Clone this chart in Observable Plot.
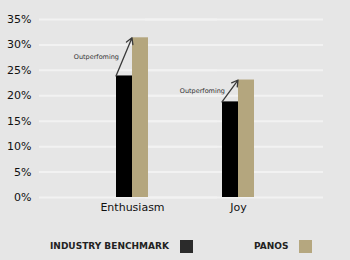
<!DOCTYPE html>
<html>
<head>
<meta charset="utf-8">
<script src="https://cdn.jsdelivr.net/npm/d3@7"></script>
<script src="https://cdn.jsdelivr.net/npm/@observablehq/plot@0.6"></script>
<style>
  html, body { margin: 0; padding: 0; background: #e6e6e6; }
  #wrap { width: 350px; height: 260px; position: relative; overflow: hidden; background: #e6e6e6; font-family: "DejaVu Sans", Verdana, sans-serif; }
  #chart svg { display: block; }
  #legend { position: absolute; left: 0; top: 238px; width: 350px; height: 16px; font-size: 9px; font-weight: bold; color: #222; }
  .item { position: absolute; top: 0; display: flex; align-items: center; height: 16px; }
  .sw { display: inline-block; width: 13px; height: 13px; margin-left: 11px; box-sizing: border-box; }
</style>
</head>
<body>
<div id="wrap">
  <div id="chart"></div>
  <div id="legend"></div>
</div>
<script>
const categories = ["Enthusiasm", "Joy"];
const seriesNames = ["INDUSTRY BENCHMARK", "PANOS"];
const benchmark = [23.9, 18.8];
const panos = [31.4, 23.1];
const yTicks = [0, 5, 10, 15, 20, 25, 30, 35];
const annotation = "Outperfoming";
const colors = ["#000000", "#b4a67e"];
const legendColors = ["#2b2b2b", "#b5a77f"];

const rows = categories.flatMap((c, i) => [
  {category: c, series: seriesNames[0], value: benchmark[i]},
  {category: c, series: seriesNames[1], value: panos[i]}
]);
const arrows = categories.map((c, i) => ({category: c, from: benchmark[i], to: panos[i]}));

const chart = Plot.plot({
  width: 350,
  height: 222,
  marginLeft: 39,
  marginRight: 27,
  marginTop: 19,
  marginBottom: 25,
  style: {background: "transparent", fontFamily: "DejaVu Sans, Verdana, sans-serif", fontSize: "11px", color: "#111", overflow: "visible"},
  fx: {domain: categories, range: [79, 291], padding: 0, axis: "bottom", tickSize: 0, tickPadding: 6, label: null},
  x: {domain: seriesNames, axis: null, paddingInner: 0, paddingOuter: 2.118},
  y: {domain: [0, 35], ticks: yTicks, tickFormat: d => d + "%", tickSize: 0, tickPadding: 48, label: null},
  color: {domain: seriesNames, range: colors},
  marks: [
    Plot.ruleY(yTicks, {stroke: "#f2f2f2", strokeWidth: 2, insetLeft: -40, insetRight: -32}),
    Plot.barY(rows, {fx: "category", x: "series", y: "value", fill: "series"}),
    Plot.arrow(arrows, {fx: "category", x1: () => seriesNames[0], x2: () => seriesNames[1], y1: "from", y2: "to", dx: -8.5, stroke: "#3a3a3a", strokeWidth: 1.3, headLength: 8}),
    Plot.text(arrows, {fx: "category", x: () => seriesNames[0], y: d => (d.from + d.to) / 2, text: () => annotation, textAnchor: "end", dx: -5.5, fontSize: 6.5, fill: "#333"})
  ]
});
document.getElementById("chart").appendChild(chart);

const legend = document.getElementById("legend");
const lefts = [50, 254];
seriesNames.forEach((s, i) => {
  const item = document.createElement("div");
  item.className = "item";
  item.style.left = lefts[i] + "px";
  const t = document.createElement("span");
  t.textContent = s;
  const sw = document.createElement("span");
  sw.className = "sw";
  sw.style.background = legendColors[i];
  item.appendChild(t);
  item.appendChild(sw);
  legend.appendChild(item);
});
</script>
</body>
</html>
